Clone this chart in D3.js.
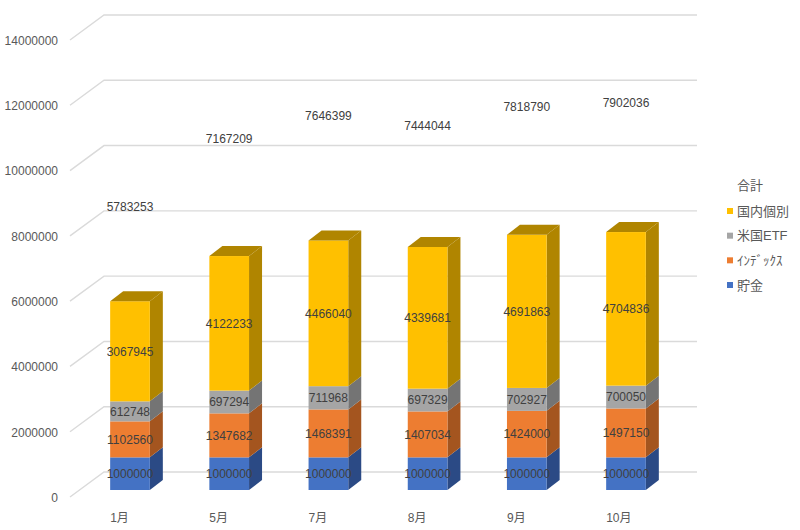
<!DOCTYPE html>
<html><head><meta charset="utf-8">
<script src="https://cdn.jsdelivr.net/npm/d3@7/dist/d3.min.js"></script>
<style>
html,body{margin:0;padding:0;background:#fff}
svg{display:block}
text{font-family:"Liberation Sans","Noto Sans CJK JP",sans-serif}
</style></head><body>
<svg id="c" width="800" height="530"></svg>
<script>
const months = ["1月","5月","7月","8月","9月","10月"];
const savings = [1000000,1000000,1000000,1000000,1000000,1000000];
const indexFunds = [1102560,1347682,1468391,1407034,1424000,1497150];
const usEtf = [612748,697294,711968,697329,702927,700050];
const domestic = [3067945,4122233,4466040,4339681,4691863,4704836];
const totals = [5783253,7167209,7646399,7444044,7818790,7902036];
const yTicks = [0,2000000,4000000,6000000,8000000,10000000,12000000,14000000];
const seriesNames = ["貯金","ｲﾝﾃﾞｯｸｽ","米国ETF","国内個別"];
const seriesValues = [savings,indexFunds,usEtf,domestic];
const seriesColors = ["#4472C4","#ED7D31","#A5A5A5","#FFC000"];
const sideColors = ["#2B4A85","#A4551F","#747474","#B08500"];
const topColor = "#B08500";
const legendTitle = "合計";

const svg = d3.select("#c");
const x = d3.scaleBand().domain(months).range([80.4,675.6]).paddingInner(0.6).paddingOuter(0.3);
const y = d3.scaleLinear().domain([0,14000000]).range([490,33]);
const depthX = 13, depthY = 10;

// back wall grid + floor diagonals
const grid = svg.append("g");
yTicks.forEach(t=>{
  const yy = y(t);
  grid.append("path")
    .attr("d",d3.line()([[70,yy+7],[104,yy-18],[697,yy-18]]))
    .attr("fill","none").attr("stroke","#DADADA").attr("stroke-width",1.4);
});

// value axis
const axisG = svg.append("g").attr("transform","translate(58,7.5)")
  .call(d3.axisLeft(y).tickValues(yTicks).tickSize(0).tickPadding(0).tickFormat(d3.format("d")));
axisG.select(".domain").remove();
axisG.selectAll("text").attr("fill","#595959").style("font-size","12px")
  .style("font-family",'"Liberation Sans",sans-serif');

// stacks
const cum = months.map(()=>0);
seriesValues.forEach((vals,si)=>{
  const g = svg.append("g");
  months.forEach((m,i)=>{
    const x0 = x(m), w = x.bandwidth();
    const b = cum[i], t = b + vals[i];
    const y0 = y(b), y1 = y(t);
    g.append("path")
      .attr("d",d3.line()([[x0+w,y0],[x0+w+depthX,y0-depthY],[x0+w+depthX,y1-depthY],[x0+w,y1]])+"Z")
      .attr("fill",sideColors[si]);
    g.append("rect").attr("x",x0).attr("y",y1).attr("width",w).attr("height",y0-y1)
      .attr("fill",seriesColors[si]);
    if(si===seriesValues.length-1){
      g.append("path")
        .attr("d",d3.line()([[x0,y1],[x0+depthX,y1-depthY],[x0+w+depthX,y1-depthY],[x0+w,y1]])+"Z")
        .attr("fill",topColor);
    }
    cum[i]=t;
  });
});

// segment labels
const labels = svg.append("g").attr("text-anchor","middle").attr("fill","#404040").style("font-size","12px");
const cum2 = months.map(()=>0);
seriesValues.forEach(vals=>{
  months.forEach((m,i)=>{
    labels.append("text").attr("x",x(m)+x.bandwidth()/2)
      .attr("y",y(cum2[i]+vals[i]/2)).attr("dy","0.36em").text(vals[i]);
    cum2[i]+=vals[i];
  });
});
// transparent total series: label sits at centre of its stacked segment
months.forEach((m,i)=>{
  labels.append("text").attr("x",x(m)+x.bandwidth()/2)
    .attr("y",y(totals[i]*1.5)).attr("dy","0.36em").text(totals[i]);
});

// category labels
const cat = svg.append("g").attr("fill","#595959").style("font-size","12px");
months.forEach(m=>{
  cat.append("text").attr("x",x(m)).attr("y",522).text(m);
});

// legend
const lg = svg.append("g").attr("fill","#595959").style("font-size","13px");
lg.append("text").attr("x",737).attr("y",190).text(legendTitle);
const legendY = d3.scalePoint().domain([3,2,1,0]).range([211,285]);
[3,2,1,0].forEach(si=>{
  const ly = legendY(si);
  lg.append("rect").attr("x",727).attr("y",ly-3).attr("width",6).attr("height",6).attr("fill",seriesColors[si]);
  lg.append("text").attr("x",737).attr("y",ly).attr("dy","0.36em").text(seriesNames[si]);
});
</script>
</body></html>
